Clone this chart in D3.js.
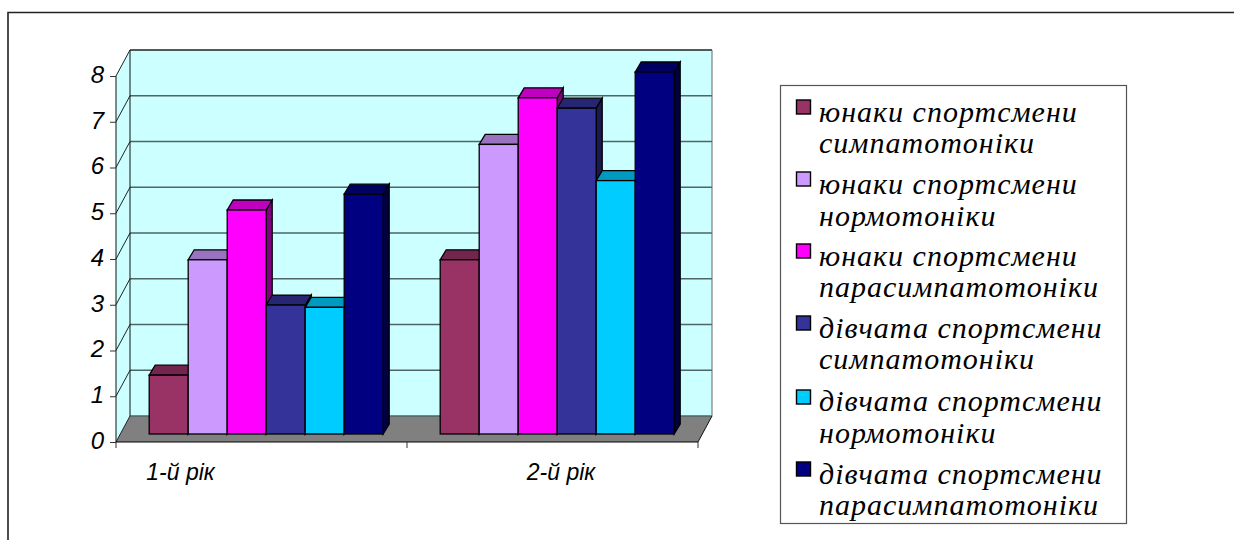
<!DOCTYPE html>
<html>
<head>
<meta charset="utf-8">
<script src="https://cdn.jsdelivr.net/npm/d3@7"></script>
<style>
  html, body { margin: 0; padding: 0; background: #fff; }
  svg { display: block; }
</style>
</head>
<body>
<svg id="chart" width="1234" height="540"></svg>
<script>
const categories = ["1-й рік", "2-й рік"];
const seriesNames = [
  ["юнаки спортсмени", "симпатотоніки"],
  ["юнаки спортсмени", "нормотоніки"],
  ["юнаки спортсмени", "парасимпатотоніки"],
  ["дівчата спортсмени", "симпатотоніки"],
  ["дівчата спортсмени", "нормотоніки"],
  ["дівчата спортсмени", "парасимпатотоніки"]
];
const seriesColors = ["#993366", "#CC99FF", "#FF00FF", "#333399", "#00CCFF", "#000080"];
const year1 = [1.3, 3.85, 4.95, 2.85, 2.8, 5.3];
const year2 = [3.85, 6.4, 7.43, 7.2, 5.6, 8];
const yTicks = [0, 1, 2, 3, 4, 5, 6, 7, 8];

const svg = d3.select("#chart");

// Oblique projection: the floor recedes up and to the right.
const floorDepth = { x: 14, y: -26 };
const barInset = { x: 4.3, y: -8 };
const barDepth = { x: 6, y: -10 };

const x = d3.scaleBand().domain(categories).range([116, 698]);
const y = d3.scaleLinear().domain([0, 8]).range([442, 76]);
const barY = d3.scaleLinear().domain([0, 8]).range([434, 72]);
const seriesBand = d3.scaleBand().domain(d3.range(6)).paddingInner(0).paddingOuter(0);

const poly = (g, pts, fill, stroke, sw) => g.append("polygon")
  .attr("points", pts.map(p => p.join(",")).join(" "))
  .attr("fill", fill).attr("stroke", stroke || "none")
  .attr("stroke-width", sw || 0).attr("stroke-linejoin", "miter");

// Outer frame: only the top and left edges are drawn
svg.append("path").attr("d", "M8,540V12.5H1234")
  .attr("fill", "none").attr("stroke", "#222").attr("stroke-width", 1.6);

const plot = svg.append("g");
const x0 = x.range()[0], x1 = x.range()[1], y0 = y(0), yTop = y(8);

// Walls and floor
poly(plot, [[x0, y0], [x0 + floorDepth.x, y0 + floorDepth.y], [x0 + floorDepth.x, yTop + floorDepth.y], [x0, yTop]], "#CCFFFF");
poly(plot, [[x0 + floorDepth.x, y0 + floorDepth.y], [x1 + floorDepth.x, y0 + floorDepth.y], [x1 + floorDepth.x, yTop + floorDepth.y], [x0 + floorDepth.x, yTop + floorDepth.y]], "#CCFFFF");
poly(plot, [[x0, y0], [x1, y0], [x1 + floorDepth.x, y0 + floorDepth.y], [x0 + floorDepth.x, y0 + floorDepth.y]], "#808080");

// Gridlines wrap from the side wall onto the back wall
yTicks.forEach(t => {
  const yy = y(t);
  plot.append("line").attr("x1", x0 + floorDepth.x).attr("x2", x1 + floorDepth.x)
    .attr("y1", yy + floorDepth.y).attr("y2", yy + floorDepth.y)
    .attr("stroke", t === 8 ? "#222" : "#4f6464").attr("stroke-width", 1.3);
  plot.append("line").attr("x1", x0).attr("x2", x0 + floorDepth.x)
    .attr("y1", yy).attr("y2", yy + floorDepth.y)
    .attr("stroke", "#222").attr("stroke-width", 1);
});
plot.append("line").attr("x1", x0 + floorDepth.x).attr("x2", x0 + floorDepth.x)
  .attr("y1", yTop + floorDepth.y).attr("y2", y0 + floorDepth.y).attr("stroke", "#111");
plot.append("line").attr("x1", x1 + floorDepth.x).attr("x2", x1 + floorDepth.x)
  .attr("y1", yTop + floorDepth.y).attr("y2", y0 + floorDepth.y).attr("stroke", "#666");
plot.append("line").attr("x1", x1).attr("x2", x1 + floorDepth.x)
  .attr("y1", y0).attr("y2", y0 + floorDepth.y).attr("stroke", "#111");

// Value axis
const yAxis = svg.append("g").attr("transform", `translate(${x0},0)`)
  .call(d3.axisLeft(y).tickValues(yTicks).tickSize(6).tickPadding(6).tickFormat(d3.format("d")));
yAxis.selectAll(".tick line").attr("stroke", "#333");
yAxis.select(".domain").attr("stroke", "#111").attr("d", `M${0},${y0}V${yTop}`);
yAxis.selectAll("text").attr("fill", "#000").attr("dy", "0.27em")
  .style("font", "italic 24px 'Liberation Sans', Arial, sans-serif");

// Category axis: ticks sit on the band edges, labels under each group
const xAxisLine = svg.append("g");
xAxisLine.append("line").attr("x1", x0).attr("x2", x1).attr("y1", y0).attr("y2", y0)
  .attr("stroke", "#000").attr("stroke-width", 1.2);
[x0, x0 + x.bandwidth(), x1].forEach(t => xAxisLine.append("line")
  .attr("x1", t).attr("x2", t).attr("y1", y0).attr("y2", y0 + 6).attr("stroke", "#333"));
svg.append("g").selectAll("text").data(categories).join("text")
  .attr("x", (d, i) => [180.5, 561][i])
  .attr("y", 480)
  .attr("text-anchor", "middle")
  .style("font", "italic 23px 'Liberation Sans', Arial, sans-serif")
  .text(d => d);

// Bars: drawn left to right so each one overlaps its neighbour's side face
const groupWidth = 234;
[year1, year2].forEach((vals, gi) => {
  const cat = categories[gi];
  const cx = x(cat) + x.bandwidth() / 2;
  seriesBand.range([cx - groupWidth / 2 + barInset.x + 0.4, cx + groupWidth / 2 + barInset.x + 0.4]);
  vals.forEach((v, si) => {
    const g = plot.append("g");
    const c = d3.color(seriesColors[si]);
    const dark = k => d3.rgb(c.r * k, c.g * k, c.b * k).formatHex();
    const L = seriesBand(si), R = L + seriesBand.bandwidth();
    const T = barY(v), B = barY(0);
    const dx = barDepth.x, dy = barDepth.y;
    poly(g, [[R, T], [R + dx, T + dy], [R + dx, B + dy], [R, B]], dark(0.5), "#000", 1.3);
    poly(g, [[L, T], [L + dx, T + dy], [R + dx, T + dy], [R, T]], dark(0.75), "#000", 1.3);
    g.append("rect").attr("x", L).attr("y", T).attr("width", R - L).attr("height", B - T)
      .attr("fill", seriesColors[si]).attr("stroke", "#000").attr("stroke-width", 1.3);
  });
});

// Legend
const legend = svg.append("g");
legend.append("rect").attr("x", 780.5).attr("y", 85.5).attr("width", 346).attr("height", 438)
  .attr("fill", "#fff").attr("stroke", "#555").attr("stroke-width", 1.2);
const swatchTops = [100, 172, 244, 316, 390, 462];
const firstBaselines = [122, 194, 266, 338, 411, 484];
const secondBaselines = [153, 226, 297, 369, 443, 515];
seriesNames.forEach((lines, i) => {
  legend.append("rect").attr("x", 796.5).attr("y", swatchTops[i])
    .attr("width", 14).attr("height", 14)
    .attr("fill", seriesColors[i]).attr("stroke", "#000").attr("stroke-width", 1.4);
  [firstBaselines[i], secondBaselines[i]].forEach((yy, k) => legend.append("text")
    .attr("x", 819).attr("y", yy)
    .style("font", "italic 30px 'Liberation Serif', 'Times New Roman', serif")
    .style("letter-spacing", "1px")
    .text(lines[k]));
});
</script>
</body>
</html>
